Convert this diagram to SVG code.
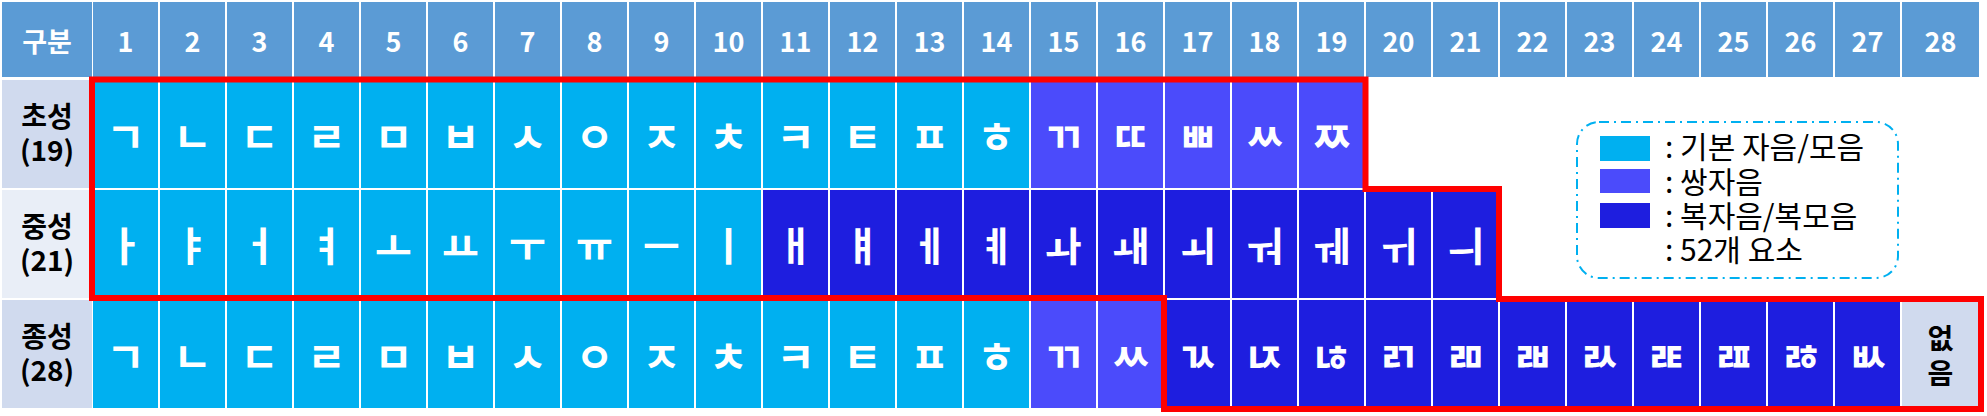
<svg xmlns="http://www.w3.org/2000/svg" width="1987" height="416" viewBox="0 0 1987 416">
<style>
.h{fill:#5B9BD5}
.ht{font-family:"Noto Sans CJK KR","Noto Sans",sans-serif;font-weight:bold;font-size:27px;fill:#fff;text-anchor:middle}
.la{fill:#D0DAEE}
.lb{fill:#E9EEF7}
.lt{font-family:"Noto Sans CJK KR","Noto Sans",sans-serif;font-weight:bold;font-size:28px;fill:#000;text-anchor:middle}
.b{fill:#00B0F0}
.d{fill:#4B4BFB}
.c{fill:#1E1EDF}
.j{font-family:"Noto Sans CJK KR",sans-serif;font-weight:bold;font-size:42px;fill:#fff;text-anchor:middle;dominant-baseline:central}
.v{font-family:"Noto Sans CJK KR",sans-serif;font-weight:bold;font-size:40px;fill:#fff;text-anchor:middle;dominant-baseline:central}
.g{font-family:"Noto Sans CJK KR",sans-serif;font-size:30px;fill:#000}
</style>
<rect width="1987" height="416" fill="#fff"/>
<g id="header">
<g id="h0"><rect class="h" x="2" y="2" width="90" height="75"/><text class="ht" x="47" y="52">구분</text></g>
<g id="h1"><rect class="h" x="93" y="2" width="65" height="75"/><text class="ht" x="125.5" y="52">1</text></g>
<g id="h2"><rect class="h" x="160" y="2" width="65" height="75"/><text class="ht" x="192.5" y="52">2</text></g>
<g id="h3"><rect class="h" x="227" y="2" width="65" height="75"/><text class="ht" x="259.5" y="52">3</text></g>
<g id="h4"><rect class="h" x="294" y="2" width="65" height="75"/><text class="ht" x="326.5" y="52">4</text></g>
<g id="h5"><rect class="h" x="361" y="2" width="65" height="75"/><text class="ht" x="393.5" y="52">5</text></g>
<g id="h6"><rect class="h" x="428" y="2" width="65" height="75"/><text class="ht" x="460.5" y="52">6</text></g>
<g id="h7"><rect class="h" x="495" y="2" width="65" height="75"/><text class="ht" x="527.5" y="52">7</text></g>
<g id="h8"><rect class="h" x="562" y="2" width="65" height="75"/><text class="ht" x="594.5" y="52">8</text></g>
<g id="h9"><rect class="h" x="629" y="2" width="65" height="75"/><text class="ht" x="661.5" y="52">9</text></g>
<g id="h10"><rect class="h" x="696" y="2" width="65" height="75"/><text class="ht" x="728.5" y="52">10</text></g>
<g id="h11"><rect class="h" x="763" y="2" width="65" height="75"/><text class="ht" x="795.5" y="52">11</text></g>
<g id="h12"><rect class="h" x="830" y="2" width="65" height="75"/><text class="ht" x="862.5" y="52">12</text></g>
<g id="h13"><rect class="h" x="897" y="2" width="65" height="75"/><text class="ht" x="929.5" y="52">13</text></g>
<g id="h14"><rect class="h" x="964" y="2" width="65" height="75"/><text class="ht" x="996.5" y="52">14</text></g>
<g id="h15"><rect class="h" x="1031" y="2" width="65" height="75"/><text class="ht" x="1063.5" y="52">15</text></g>
<g id="h16"><rect class="h" x="1098" y="2" width="65" height="75"/><text class="ht" x="1130.5" y="52">16</text></g>
<g id="h17"><rect class="h" x="1165" y="2" width="65" height="75"/><text class="ht" x="1197.5" y="52">17</text></g>
<g id="h18"><rect class="h" x="1232" y="2" width="65" height="75"/><text class="ht" x="1264.5" y="52">18</text></g>
<g id="h19"><rect class="h" x="1299" y="2" width="65" height="75"/><text class="ht" x="1331.5" y="52">19</text></g>
<g id="h20"><rect class="h" x="1366" y="2" width="65" height="75"/><text class="ht" x="1398.5" y="52">20</text></g>
<g id="h21"><rect class="h" x="1433" y="2" width="65" height="75"/><text class="ht" x="1465.5" y="52">21</text></g>
<g id="h22"><rect class="h" x="1500" y="2" width="65" height="75"/><text class="ht" x="1532.5" y="52">22</text></g>
<g id="h23"><rect class="h" x="1567" y="2" width="65" height="75"/><text class="ht" x="1599.5" y="52">23</text></g>
<g id="h24"><rect class="h" x="1634" y="2" width="65" height="75"/><text class="ht" x="1666.5" y="52">24</text></g>
<g id="h25"><rect class="h" x="1701" y="2" width="65" height="75"/><text class="ht" x="1733.5" y="52">25</text></g>
<g id="h26"><rect class="h" x="1768" y="2" width="65" height="75"/><text class="ht" x="1800.5" y="52">26</text></g>
<g id="h27"><rect class="h" x="1835" y="2" width="65" height="75"/><text class="ht" x="1867.5" y="52">27</text></g>
<g id="h28"><rect class="h" x="1902" y="2" width="77" height="75"/><text class="ht" x="1940.5" y="52">28</text></g>
</g>
<g id="row1">
<g id="r1-label"><rect class="la" x="2" y="80" width="90" height="108"/><text class="lt" x="47" y="127">초성</text><text class="lt" x="47" y="161">(19)</text></g>
<g id="r1-1"><rect class="b" x="93" y="80" width="65" height="108"/><text class="j" x="125.5" y="134">ㄱ</text></g>
<g id="r1-2"><rect class="b" x="160" y="80" width="65" height="108"/><text class="j" x="192.5" y="134">ㄴ</text></g>
<g id="r1-3"><rect class="b" x="227" y="80" width="65" height="108"/><text class="j" x="259.5" y="134">ㄷ</text></g>
<g id="r1-4"><rect class="b" x="294" y="80" width="65" height="108"/><text class="j" x="326.5" y="134">ㄹ</text></g>
<g id="r1-5"><rect class="b" x="361" y="80" width="65" height="108"/><text class="j" x="393.5" y="134">ㅁ</text></g>
<g id="r1-6"><rect class="b" x="428" y="80" width="65" height="108"/><text class="j" x="460.5" y="134">ㅂ</text></g>
<g id="r1-7"><rect class="b" x="495" y="80" width="65" height="108"/><text class="j" x="527.5" y="134">ㅅ</text></g>
<g id="r1-8"><rect class="b" x="562" y="80" width="65" height="108"/><text class="j" x="594.5" y="134">ㅇ</text></g>
<g id="r1-9"><rect class="b" x="629" y="80" width="65" height="108"/><text class="j" x="661.5" y="134">ㅈ</text></g>
<g id="r1-10"><rect class="b" x="696" y="80" width="65" height="108"/><text class="j" x="728.5" y="134">ㅊ</text></g>
<g id="r1-11"><rect class="b" x="763" y="80" width="65" height="108"/><text class="j" x="795.5" y="134">ㅋ</text></g>
<g id="r1-12"><rect class="b" x="830" y="80" width="65" height="108"/><text class="j" x="862.5" y="134">ㅌ</text></g>
<g id="r1-13"><rect class="b" x="897" y="80" width="65" height="108"/><text class="j" x="929.5" y="134">ㅍ</text></g>
<g id="r1-14"><rect class="b" x="964" y="80" width="65" height="108"/><text class="j" x="996.5" y="134">ㅎ</text></g>
<g id="r1-15"><rect class="d" x="1031" y="80" width="65" height="108"/><text class="j" x="1063.5" y="134">ㄲ</text></g>
<g id="r1-16"><rect class="d" x="1098" y="80" width="65" height="108"/><text class="j" x="1130.5" y="134">ㄸ</text></g>
<g id="r1-17"><rect class="d" x="1165" y="80" width="65" height="108"/><text class="j" x="1197.5" y="134">ㅃ</text></g>
<g id="r1-18"><rect class="d" x="1232" y="80" width="65" height="108"/><text class="j" x="1264.5" y="134">ㅆ</text></g>
<g id="r1-19"><rect class="d" x="1299" y="80" width="65" height="108"/><text class="j" x="1331.5" y="134">ㅉ</text></g>
</g>
<g id="row2">
<g id="r2-label"><rect class="lb" x="2" y="190" width="90" height="108"/><text class="lt" x="47" y="237">중성</text><text class="lt" x="47" y="271">(21)</text></g>
<g id="r2-1"><rect class="b" x="93" y="190" width="65" height="108"/><text class="v" x="125.5" y="244">ㅏ</text></g>
<g id="r2-2"><rect class="b" x="160" y="190" width="65" height="108"/><text class="v" x="192.5" y="244">ㅑ</text></g>
<g id="r2-3"><rect class="b" x="227" y="190" width="65" height="108"/><text class="v" x="259.5" y="244">ㅓ</text></g>
<g id="r2-4"><rect class="b" x="294" y="190" width="65" height="108"/><text class="v" x="326.5" y="244">ㅕ</text></g>
<g id="r2-5"><rect class="b" x="361" y="190" width="65" height="108"/><text class="v" x="393.5" y="244">ㅗ</text></g>
<g id="r2-6"><rect class="b" x="428" y="190" width="65" height="108"/><text class="v" x="460.5" y="244">ㅛ</text></g>
<g id="r2-7"><rect class="b" x="495" y="190" width="65" height="108"/><text class="v" x="527.5" y="244">ㅜ</text></g>
<g id="r2-8"><rect class="b" x="562" y="190" width="65" height="108"/><text class="v" x="594.5" y="244">ㅠ</text></g>
<g id="r2-9"><rect class="b" x="629" y="190" width="65" height="108"/><text class="v" x="661.5" y="244">ㅡ</text></g>
<g id="r2-10"><rect class="b" x="696" y="190" width="65" height="108"/><text class="v" x="728.5" y="244">ㅣ</text></g>
<g id="r2-11"><rect class="c" x="763" y="190" width="65" height="108"/><text class="v" x="795.5" y="244">ㅐ</text></g>
<g id="r2-12"><rect class="c" x="830" y="190" width="65" height="108"/><text class="v" x="862.5" y="244">ㅒ</text></g>
<g id="r2-13"><rect class="c" x="897" y="190" width="65" height="108"/><text class="v" x="929.5" y="244">ㅔ</text></g>
<g id="r2-14"><rect class="c" x="964" y="190" width="65" height="108"/><text class="v" x="996.5" y="244">ㅖ</text></g>
<g id="r2-15"><rect class="c" x="1031" y="190" width="65" height="108"/><text class="v" x="1063.5" y="244">ㅘ</text></g>
<g id="r2-16"><rect class="c" x="1098" y="190" width="65" height="108"/><text class="v" x="1130.5" y="244">ㅙ</text></g>
<g id="r2-17"><rect class="c" x="1165" y="190" width="65" height="108"/><text class="v" x="1197.5" y="244">ㅚ</text></g>
<g id="r2-18"><rect class="c" x="1232" y="190" width="65" height="108"/><text class="v" x="1264.5" y="244">ㅝ</text></g>
<g id="r2-19"><rect class="c" x="1299" y="190" width="65" height="108"/><text class="v" x="1331.5" y="244">ㅞ</text></g>
<g id="r2-20"><rect class="c" x="1366" y="190" width="65" height="108"/><text class="v" x="1398.5" y="244">ㅟ</text></g>
<g id="r2-21"><rect class="c" x="1433" y="190" width="65" height="108"/><text class="v" x="1465.5" y="244">ㅢ</text></g>
</g>
<g id="row3">
<g id="r3-label"><rect class="la" x="2" y="300" width="90" height="108"/><text class="lt" x="47" y="347">종성</text><text class="lt" x="47" y="381">(28)</text></g>
<g id="r3-1"><rect class="b" x="93" y="300" width="65" height="108"/><text class="j" x="125.5" y="354">ㄱ</text></g>
<g id="r3-2"><rect class="b" x="160" y="300" width="65" height="108"/><text class="j" x="192.5" y="354">ㄴ</text></g>
<g id="r3-3"><rect class="b" x="227" y="300" width="65" height="108"/><text class="j" x="259.5" y="354">ㄷ</text></g>
<g id="r3-4"><rect class="b" x="294" y="300" width="65" height="108"/><text class="j" x="326.5" y="354">ㄹ</text></g>
<g id="r3-5"><rect class="b" x="361" y="300" width="65" height="108"/><text class="j" x="393.5" y="354">ㅁ</text></g>
<g id="r3-6"><rect class="b" x="428" y="300" width="65" height="108"/><text class="j" x="460.5" y="354">ㅂ</text></g>
<g id="r3-7"><rect class="b" x="495" y="300" width="65" height="108"/><text class="j" x="527.5" y="354">ㅅ</text></g>
<g id="r3-8"><rect class="b" x="562" y="300" width="65" height="108"/><text class="j" x="594.5" y="354">ㅇ</text></g>
<g id="r3-9"><rect class="b" x="629" y="300" width="65" height="108"/><text class="j" x="661.5" y="354">ㅈ</text></g>
<g id="r3-10"><rect class="b" x="696" y="300" width="65" height="108"/><text class="j" x="728.5" y="354">ㅊ</text></g>
<g id="r3-11"><rect class="b" x="763" y="300" width="65" height="108"/><text class="j" x="795.5" y="354">ㅋ</text></g>
<g id="r3-12"><rect class="b" x="830" y="300" width="65" height="108"/><text class="j" x="862.5" y="354">ㅌ</text></g>
<g id="r3-13"><rect class="b" x="897" y="300" width="65" height="108"/><text class="j" x="929.5" y="354">ㅍ</text></g>
<g id="r3-14"><rect class="b" x="964" y="300" width="65" height="108"/><text class="j" x="996.5" y="354">ㅎ</text></g>
<g id="r3-15"><rect class="d" x="1031" y="300" width="65" height="108"/><text class="j" x="1063.5" y="354">ㄲ</text></g>
<g id="r3-16"><rect class="d" x="1098" y="300" width="65" height="108"/><text class="j" x="1130.5" y="354">ㅆ</text></g>
<g id="r3-17"><rect class="c" x="1165" y="300" width="65" height="108"/><text class="j" x="1197.5" y="354">ㄳ</text></g>
<g id="r3-18"><rect class="c" x="1232" y="300" width="65" height="108"/><text class="j" x="1264.5" y="354">ㄵ</text></g>
<g id="r3-19"><rect class="c" x="1299" y="300" width="65" height="108"/><text class="j" x="1331.5" y="354">ㄶ</text></g>
<g id="r3-20"><rect class="c" x="1366" y="300" width="65" height="108"/><text class="j" x="1398.5" y="354">ㄺ</text></g>
<g id="r3-21"><rect class="c" x="1433" y="300" width="65" height="108"/><text class="j" x="1465.5" y="354">ㄻ</text></g>
<g id="r3-22"><rect class="c" x="1500" y="300" width="65" height="108"/><text class="j" x="1532.5" y="354">ㄼ</text></g>
<g id="r3-23"><rect class="c" x="1567" y="300" width="65" height="108"/><text class="j" x="1599.5" y="354">ㄽ</text></g>
<g id="r3-24"><rect class="c" x="1634" y="300" width="65" height="108"/><text class="j" x="1666.5" y="354">ㄾ</text></g>
<g id="r3-25"><rect class="c" x="1701" y="300" width="65" height="108"/><text class="j" x="1733.5" y="354">ㄿ</text></g>
<g id="r3-26"><rect class="c" x="1768" y="300" width="65" height="108"/><text class="j" x="1800.5" y="354">ㅀ</text></g>
<g id="r3-27"><rect class="c" x="1835" y="300" width="65" height="108"/><text class="j" x="1867.5" y="354">ㅄ</text></g>
<g id="r3-28"><rect class="la" x="1902" y="300" width="77" height="108"/><text class="lt" x="1940.5" y="349">없</text><text class="lt" x="1940.5" y="384">음</text></g>
</g>
<g id="connectors">
<path d="M92,79.5 H1365.5 V189 H1499 V299 H1981 V409 H1164 V298 H92 Z" fill="none" stroke="#FF0000" stroke-width="6" stroke-linejoin="miter"/>
</g>
<g id="legend">
<rect x="1577" y="122" width="321" height="156" rx="22" ry="22" fill="none" stroke="#00B0F0" stroke-width="2" stroke-dasharray="10 5 2 5"/>
<rect x="1600" y="136" width="50" height="25" fill="#00B0F0"/>
<rect x="1600" y="169" width="50" height="24" fill="#4B4BFB"/>
<rect x="1600" y="203" width="50" height="25" fill="#1E1EDF"/>
<text class="g" x="1665" y="158">: 기본 자음/모음</text>
<text class="g" x="1665" y="193">: 쌍자음</text>
<text class="g" x="1665" y="227">: 복자음/복모음</text>
<text class="g" x="1665" y="261">: 52개 요소</text>
</g>
</svg>
